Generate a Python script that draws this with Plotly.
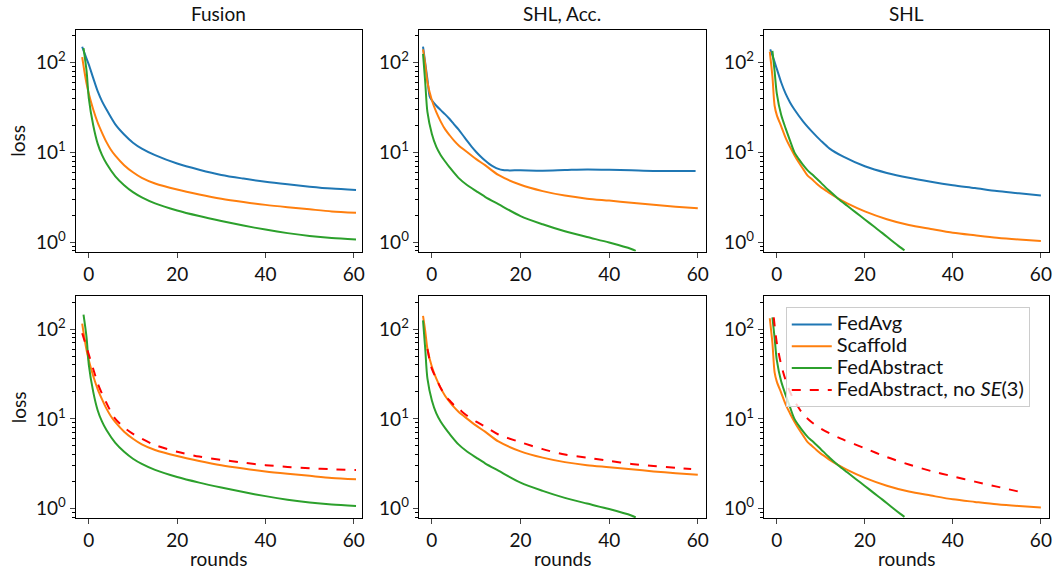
import plotly.graph_objects as go
from plotly.subplots import make_subplots

# ---------------- data ----------------
# Fusion
fus_avg_x = [-1.5, -1, 0, 1, 2, 3, 4, 6, 8, 10, 12, 15, 20, 25, 30, 35, 40, 45, 50, 55, 60.5]
fus_avg_y = [150, 128, 95, 67, 48, 37, 30, 20.5, 15.8, 12.8, 11.0, 9.3, 7.5, 6.4, 5.6, 5.1, 4.7, 4.4, 4.15, 3.95, 3.8]

fus_sca_x = [-1.5, -1, -0.5, 0, 1, 2, 3, 4, 5, 6, 8, 10, 12, 15, 20, 25, 30, 35, 40, 45, 50, 55, 60.5]
fus_sca_y = [115, 80, 58, 45, 30, 21.5, 16.5, 13, 10.7, 9.2, 7.2, 6.0, 5.2, 4.5, 3.85, 3.4, 3.05, 2.8, 2.6, 2.45, 2.32, 2.2, 2.12]

fus_abs_x = [-1.2, -0.5, 0, 1, 2, 3, 4, 6, 8, 10, 12, 15, 20, 25, 30, 35, 40, 45, 50, 55, 60.5]
fus_abs_y = [145, 80, 40, 20, 12.5, 9.3, 7.5, 5.4, 4.3, 3.6, 3.15, 2.7, 2.25, 1.95, 1.72, 1.53, 1.38, 1.26, 1.17, 1.11, 1.07]

fus_nose_x = [-1.5, -1, 0, 1, 2, 3, 4, 5, 6, 8, 10, 12, 15, 20, 25, 30, 35, 40, 45, 50, 55, 60.5]
fus_nose_y = [90, 75, 52, 36, 25, 19, 15, 12, 10, 8.0, 6.8, 6.0, 5.1, 4.3, 3.8, 3.5, 3.25, 3.05, 2.92, 2.82, 2.75, 2.7]

# SHL, Acc.
acc_avg_x = [-2, -1, -0.5, 0, 1, 2, 3, 4, 5, 6, 7, 8, 9, 10, 11, 12, 13, 14, 15, 16, 17, 20, 25, 30, 35, 40, 45, 50, 55, 59.5]
acc_avg_y = [150, 65, 42, 38, 33, 29.5, 26.5, 23.5, 20.5, 18, 15.5, 13.3, 11.5, 10.1, 9.0, 8.1, 7.4, 6.9, 6.55, 6.35, 6.3, 6.3, 6.25, 6.35, 6.45, 6.4, 6.3, 6.2, 6.2, 6.2]

acc_sca_x = [-2, -1.5, -1, 0, 1, 2, 3, 4, 5, 6, 8, 10, 12, 15, 20, 25, 30, 35, 40, 45, 50, 55, 60]
acc_sca_y = [140, 95, 60, 38, 28, 22, 18, 15.5, 13.5, 12, 10, 8.4, 7.2, 5.6, 4.35, 3.7, 3.3, 3.05, 2.9, 2.75, 2.6, 2.48, 2.38]

acc_abs_x = [-2, -1.5, -1, 0, 1, 2, 3, 4, 6, 8, 10, 12, 15, 20, 25, 30, 35, 40, 45, 46]
acc_abs_y = [125, 60, 28, 16, 11.5, 9.3, 7.9, 6.8, 5.2, 4.3, 3.7, 3.2, 2.65, 1.95, 1.58, 1.32, 1.14, 0.99, 0.84, 0.8]

acc_nose_x = [-1, -0.5, 0, 1, 2, 3, 4, 5, 6, 8, 10, 12, 15, 20, 25, 30, 35, 40, 45, 50, 55, 58.5]
acc_nose_y = [60, 45, 36, 28, 22, 18, 16, 14.2, 13, 10.8, 9.3, 8.2, 6.7, 5.5, 4.6, 4.0, 3.7, 3.4, 3.15, 2.98, 2.85, 2.77]

# SHL
shl_avg_x = [-1.5, -1, 0, 1, 2, 3, 4, 6, 8, 10, 12, 15, 20, 25, 30, 35, 40, 45, 50, 55, 60]
shl_avg_y = [140, 120, 85, 60, 45, 36, 30, 22, 17, 13.5, 11, 9, 7.0, 5.9, 5.2, 4.7, 4.3, 4.0, 3.7, 3.5, 3.3]

shl_sca_x = [-1.6, -1, -0.5, 0, 1, 2, 3, 4, 5, 6, 7, 8, 9, 10, 11, 12, 14, 16, 20, 25, 30, 35, 40, 45, 50, 55, 60]
shl_sca_y = [132, 70, 33, 26, 19.5, 14.5, 11.5, 9.3, 7.7, 6.5, 5.5, 5.0, 4.5, 4.1, 3.8, 3.5, 3.05, 2.7, 2.2, 1.8, 1.55, 1.4, 1.27, 1.19, 1.12, 1.07, 1.03]

shl_abs_x = [-1, -0.5, 0, 1, 2, 3, 4, 5, 6, 7, 8, 10, 12, 14, 16, 18, 20, 22, 24, 26, 28, 29]
shl_abs_y = [135, 80, 45, 26, 18.5, 13.5, 10, 8.4, 7.2, 6.3, 5.7, 4.6, 3.7, 3.03, 2.54, 2.13, 1.79, 1.5, 1.26, 1.05, 0.88, 0.81]

shl_nose_x = [-0.7, 0, 1, 2, 3, 4, 5, 6, 8, 10, 12, 15, 20, 25, 30, 35, 40, 45, 50, 56]
shl_nose_y = [135, 70, 40, 27, 20, 15.8, 13.2, 11.2, 9.1, 7.8, 6.9, 5.9, 4.7, 3.75, 3.1, 2.63, 2.29, 2.0, 1.76, 1.51]

panel_titles = ["Fusion", "SHL, Acc.", "SHL"]
series_names = ["FedAvg", "Scaffold", "FedAbstract", "FedAbstract, no <i>SE</i>(3)"]
x_ticks = [0, 20, 40, 60]
y_ticks = [1, 10, 100]
y_tick_text = ["10<sup>0</sup>", "10<sup>1</sup>", "10<sup>2</sup>"]

C_AVG, C_SCA, C_ABS, C_NOSE = "#1f77b4", "#ff7f0e", "#2ca02c", "#ff0000"
FONT = "Lato, 'DejaVu Sans', sans-serif"
W, H = 1060, 577

fig = make_subplots(rows=2, cols=3)


def add(x, y, color, name, row, col, show, dash="solid"):
    label = '<span style="font-size:20px">' + name + '</span>'
    fig.add_trace(go.Scatter(x=x, y=y, mode="lines", name=label, legendgroup=name,
                             showlegend=show,
                             line=dict(color=color, width=2, dash=dash,
                                       shape="spline", smoothing=0.8)),
                  row=row, col=col)


# top row
add(fus_avg_x, fus_avg_y, C_AVG, series_names[0], 1, 1, True)
add(fus_sca_x, fus_sca_y, C_SCA, series_names[1], 1, 1, True)
add(fus_abs_x, fus_abs_y, C_ABS, series_names[2], 1, 1, True)
add(acc_avg_x, acc_avg_y, C_AVG, series_names[0], 1, 2, False)
add(acc_sca_x, acc_sca_y, C_SCA, series_names[1], 1, 2, False)
add(acc_abs_x, acc_abs_y, C_ABS, series_names[2], 1, 2, False)
add(shl_avg_x, shl_avg_y, C_AVG, series_names[0], 1, 3, False)
add(shl_sca_x, shl_sca_y, C_SCA, series_names[1], 1, 3, False)
add(shl_abs_x, shl_abs_y, C_ABS, series_names[2], 1, 3, False)
# bottom row
add(fus_sca_x, fus_sca_y, C_SCA, series_names[1], 2, 1, False)
add(fus_abs_x, fus_abs_y, C_ABS, series_names[2], 2, 1, False)
add(fus_nose_x, fus_nose_y, C_NOSE, series_names[3], 2, 1, True, "dash")
add(acc_sca_x, acc_sca_y, C_SCA, series_names[1], 2, 2, False)
add(acc_abs_x, acc_abs_y, C_ABS, series_names[2], 2, 2, False)
add(acc_nose_x, acc_nose_y, C_NOSE, series_names[3], 2, 2, False, "dash")
add(shl_sca_x, shl_sca_y, C_SCA, series_names[1], 2, 3, False)
add(shl_abs_x, shl_abs_y, C_ABS, series_names[2], 2, 3, False)
add(shl_nose_x, shl_nose_y, C_NOSE, series_names[3], 2, 3, False, "dash")

col_px = [(76, 363), (420, 708), (766, 1052)]
row_px = [(30, 252), (297, 519)]
minor_vals = [m * 10 ** k for k in (-1, 0, 1, 2) for m in range(2, 10)]

for r in range(2):
    for c in range(3):
        idx = r * 3 + c + 1
        sx = "" if idx == 1 else str(idx)
        x0, x1 = col_px[c]
        y0, y1 = row_px[r]
        fig.layout["xaxis" + sx].update(
            domain=[x0 / W, x1 / W], range=[-2.95, 61.85],
            tickvals=x_ticks, ticks="outside", ticklen=5, tickwidth=1.2,
            showline=True, linecolor="black", linewidth=1.3, mirror=True,
            showgrid=False, zeroline=False,
            tickfont=dict(family=FONT, size=19, color="#111"))
        fig.layout["yaxis" + sx].update(
            domain=[1 - y1 / H, 1 - y0 / H], type="log", range=[-0.105, 2.363],
            tickvals=y_ticks, ticktext=y_tick_text,
            ticks="outside", ticklen=5, tickwidth=1.2,
            minor=dict(tickvals=minor_vals, ticks="outside", ticklen=3,
                       tickwidth=0.8, tickcolor="black", showgrid=False),
            showline=True, linecolor="black", linewidth=1.3, mirror=True,
            showgrid=False, zeroline=False,
            tickfont=dict(family=FONT, size=19, color="#111"))

annotations = []
for c in range(3):
    cx = (col_px[c][0] + col_px[c][1]) / 2 / W
    annotations.append(dict(text=panel_titles[c], x=cx, y=1 - 14 / H, xref="paper", yref="paper",
                            showarrow=False, xanchor="center", yanchor="middle",
                            font=dict(family=FONT, size=19, color="#111")))
    annotations.append(dict(text="rounds", x=cx, y=1 - 559 / H, xref="paper", yref="paper",
                            showarrow=False, xanchor="center", yanchor="middle",
                            font=dict(family=FONT, size=19, color="#111")))
for r in range(2):
    cy = 1 - (row_px[r][0] + row_px[r][1]) / 2 / H
    annotations.append(dict(text="loss", x=18 / W, y=cy, xref="paper", yref="paper",
                            showarrow=False, xanchor="center", yanchor="middle", textangle=-90,
                            font=dict(family=FONT, size=19, color="#111")))

fig.update_layout(
    width=W, height=H, margin=dict(l=0, r=0, t=0, b=0),
    paper_bgcolor="white", plot_bgcolor="white",
    annotations=annotations,
    legend=dict(x=788 / W, y=1 - 308 / H, xanchor="left", yanchor="top",
                bgcolor="rgba(255,255,255,0.8)", bordercolor="#cccccc", borderwidth=1,
                font=dict(family=FONT, size=14.5, color="#111"),
                traceorder="normal", tracegroupgap=0, itemwidth=40),
    showlegend=True,
)

fig.write_html("out.html", config={"displayModeBar": False},
               post_script="document.body.style.margin='0px';")
